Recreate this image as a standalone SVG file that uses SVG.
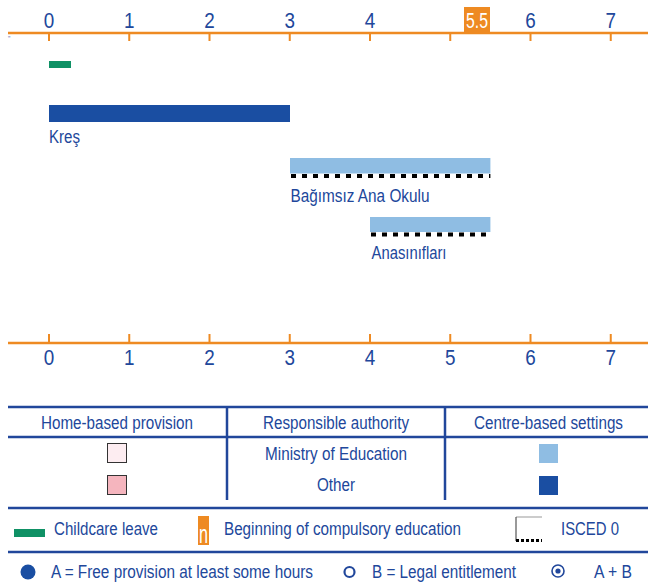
<svg xmlns="http://www.w3.org/2000/svg" width="648" height="587" viewBox="0 0 648 587">
<style>
text{font-family:"Liberation Sans Narrow","Liberation Sans",Arial,sans-serif;fill:#21479b}
.ax{font-size:22px;text-anchor:middle}
.lab{font-size:17.5px}
.c{text-anchor:middle}
.axl{stroke:#ee8a22;stroke-width:2.5;fill:none}
.tk{stroke:#ee8a22;stroke-width:2;fill:none}
.tl{stroke:#21479b;stroke-width:2.5;fill:none}
.dash{stroke:#000;stroke-width:4;stroke-dasharray:5 6;fill:none}
</style>
<rect width="648" height="587" fill="#fff"/>
<g id="top-axis">
<line class="axl" x1="8" y1="33" x2="648" y2="33"/>
<path class="tk" d="M49,33V41M129.25,33V41M209.5,33V41M289.75,33V41M370,33V41M450.25,33V41M530.5,33V41M610.75,33V41"/>
<text class="ax" x="49" y="28" textLength="10.5" lengthAdjust="spacingAndGlyphs">0</text>
<text class="ax" x="129.25" y="28" textLength="10.5" lengthAdjust="spacingAndGlyphs">1</text>
<text class="ax" x="209.5" y="28" textLength="10.5" lengthAdjust="spacingAndGlyphs">2</text>
<text class="ax" x="289.75" y="28" textLength="10.5" lengthAdjust="spacingAndGlyphs">3</text>
<text class="ax" x="370" y="28" textLength="10.5" lengthAdjust="spacingAndGlyphs">4</text>
<rect x="464" y="7" width="26" height="26" fill="#ee8a22"/>
<text class="ax" x="477" y="28" style="fill:#fff" textLength="22" lengthAdjust="spacingAndGlyphs">5.5</text>
<text class="ax" x="530.5" y="28" textLength="10.5" lengthAdjust="spacingAndGlyphs">6</text>
<text class="ax" x="610.75" y="28" textLength="10.5" lengthAdjust="spacingAndGlyphs">7</text>
<text x="8" y="41" style="font-size:7px;fill:#6680bb">”</text>
</g>
<g id="childcare-leave-bar">
<rect x="49" y="61" width="22" height="7" fill="#0f9165"/>
</g>
<g id="kres">
<rect x="49" y="105" width="241" height="17" fill="#1a4ea2"/>
<text class="lab" x="49" y="143" textLength="31" lengthAdjust="spacingAndGlyphs">Kreş</text>
</g>
<g id="bagimsiz-ana-okulu">
<rect x="290" y="158" width="200.4" height="15.5" fill="#8fbde3"/>
<line class="dash" x1="291" y1="176" x2="490.4" y2="176"/>
<text class="lab" x="290.5" y="201.5" textLength="139" lengthAdjust="spacingAndGlyphs">Bağımsız Ana Okulu</text>
</g>
<g id="anasiniflari">
<rect x="370" y="217" width="120.4" height="15" fill="#8fbde3"/>
<line class="dash" x1="371" y1="234.5" x2="490.4" y2="234.5"/>
<text class="lab" x="371.5" y="259" textLength="75" lengthAdjust="spacingAndGlyphs">Anasınıfları</text>
</g>
<g id="bottom-axis">
<line class="axl" x1="8" y1="343" x2="648" y2="343"/>
<path class="tk" d="M49,334V343M129.25,334V343M209.5,334V343M289.75,334V343M370,334V343M450.25,334V343M530.5,334V343M610.75,334V343"/>
<text class="ax" x="49" y="365" textLength="10.5" lengthAdjust="spacingAndGlyphs">0</text>
<text class="ax" x="129.25" y="365" textLength="10.5" lengthAdjust="spacingAndGlyphs">1</text>
<text class="ax" x="209.5" y="365" textLength="10.5" lengthAdjust="spacingAndGlyphs">2</text>
<text class="ax" x="289.75" y="365" textLength="10.5" lengthAdjust="spacingAndGlyphs">3</text>
<text class="ax" x="370" y="365" textLength="10.5" lengthAdjust="spacingAndGlyphs">4</text>
<text class="ax" x="450.25" y="365" textLength="10.5" lengthAdjust="spacingAndGlyphs">5</text>
<text class="ax" x="530.5" y="365" textLength="10.5" lengthAdjust="spacingAndGlyphs">6</text>
<text class="ax" x="610.75" y="365" textLength="10.5" lengthAdjust="spacingAndGlyphs">7</text>
</g>
<g id="legend-table">
<line class="tl" x1="8" y1="407" x2="648" y2="407"/>
<line class="tl" x1="8" y1="437" x2="648" y2="437"/>
<line class="tl" x1="8" y1="508" x2="648" y2="508"/>
<line class="tl" x1="227" y1="407" x2="227" y2="500"/>
<line class="tl" x1="445" y1="407" x2="445" y2="500"/>
<text class="lab c" x="117" y="428.5" textLength="152" lengthAdjust="spacingAndGlyphs">Home-based provision</text>
<text class="lab c" x="336" y="428.5" textLength="146" lengthAdjust="spacingAndGlyphs">Responsible authority</text>
<text class="lab c" x="548.5" y="428.5" textLength="149" lengthAdjust="spacingAndGlyphs">Centre-based settings</text>
<text class="lab c" x="336" y="460" textLength="142" lengthAdjust="spacingAndGlyphs">Ministry of Education</text>
<text class="lab c" x="336" y="491" textLength="38" lengthAdjust="spacingAndGlyphs">Other</text>
<rect x="107.5" y="443.5" width="19" height="19" fill="#fdedf1" stroke="#333" stroke-width="1"/>
<rect x="107.5" y="475.5" width="19" height="19" fill="#f5b5be" stroke="#333" stroke-width="1"/>
<rect x="539" y="444" width="19" height="19" fill="#8fbde3"/>
<rect x="539" y="476" width="19" height="19" fill="#1a4ea2"/>
</g>
<g id="legend-symbols">
<rect x="14" y="529" width="31" height="8" fill="#0f9165"/>
<text class="lab" x="54" y="535" textLength="104" lengthAdjust="spacingAndGlyphs">Childcare leave</text>
<rect x="198" y="516" width="11" height="29" fill="#ee8a22"/>
<text x="199" y="543" style="font-size:25px;fill:#fff" textLength="9" lengthAdjust="spacingAndGlyphs">n</text>
<text class="lab" x="224" y="535" textLength="237" lengthAdjust="spacingAndGlyphs">Beginning of compulsory education</text>
<line x1="516" y1="517" x2="542" y2="517" stroke="#999" stroke-width="1"/>
<line x1="516" y1="517" x2="516" y2="541" stroke="#555" stroke-width="1.2"/>
<line x1="516" y1="540.5" x2="542" y2="540.5" stroke="#000" stroke-width="3" stroke-dasharray="3 2"/>
<text class="lab" x="561" y="535" textLength="58" lengthAdjust="spacingAndGlyphs">ISCED 0</text>
<line class="tl" x1="8" y1="552" x2="648" y2="552"/>
<circle cx="28" cy="572" r="7.5" fill="#1a4ea2"/>
<text class="lab" x="51" y="578" textLength="262" lengthAdjust="spacingAndGlyphs">A = Free provision at least some hours</text>
<circle cx="349.5" cy="572" r="5" fill="none" stroke="#21479b" stroke-width="2.2"/>
<text class="lab" x="372" y="578" textLength="144" lengthAdjust="spacingAndGlyphs">B = Legal entitlement</text>
<circle cx="558" cy="571" r="6" fill="none" stroke="#21479b" stroke-width="1.6"/>
<circle cx="558" cy="571" r="2.6" fill="#21479b"/>
<text class="lab" x="594" y="578" textLength="38" lengthAdjust="spacingAndGlyphs">A + B</text>
</g>
</svg>
